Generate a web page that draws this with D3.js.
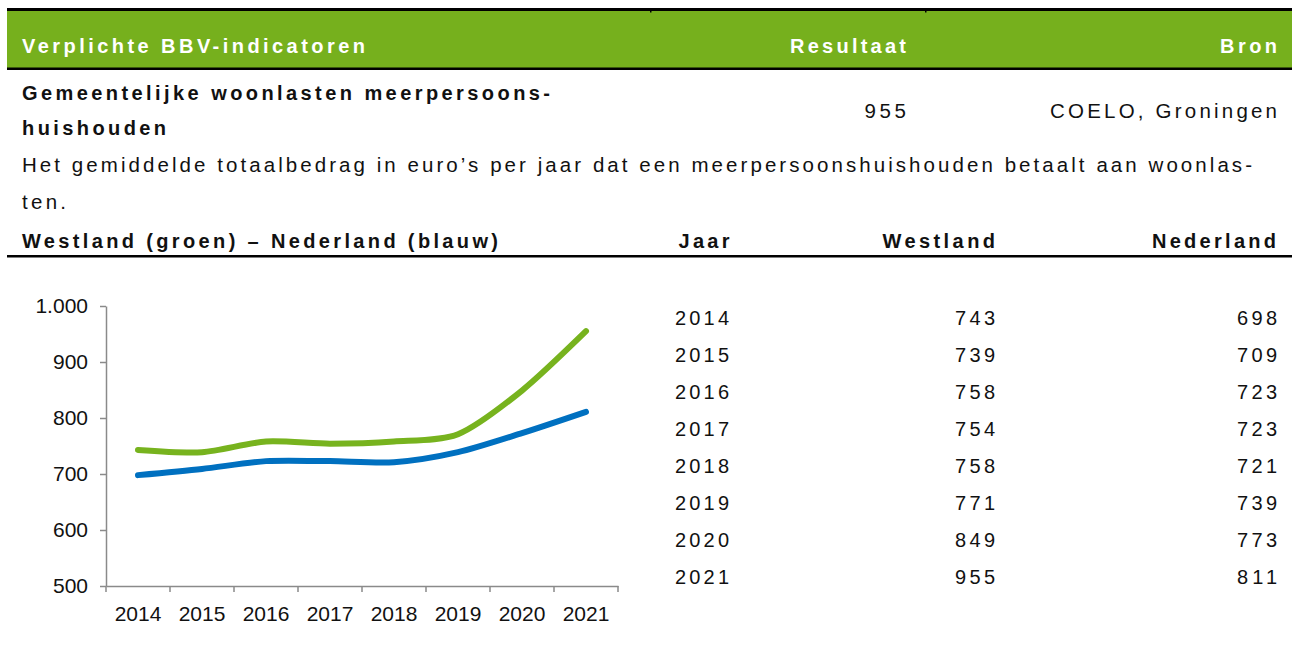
<!DOCTYPE html>
<html>
<head>
<meta charset="utf-8">
<script src="https://cdn.jsdelivr.net/npm/d3@7"></script>
<style>
  html, body { margin: 0; padding: 0; background: #fff; }
  svg { display: block; font-family: "Liberation Sans", Arial, sans-serif; }
</style>
</head>
<body>
<svg id="chart" width="1292" height="659"></svg>
<script>
// ---- data ----
const years = [2014, 2015, 2016, 2017, 2018, 2019, 2020, 2021];
const westland = [743, 739, 758, 754, 758, 771, 849, 955];
const nederland = [698, 709, 723, 723, 721, 739, 773, 811];
const yTicks = [500, 600, 700, 800, 900, 1000];

const headerLabels = ["Verplichte BBV-indicatoren", "Resultaat", "Bron"];
const indicatorTitle = ["Gemeentelijke woonlasten meerpersoons-", "huishouden"];
const resultValue = "955";
const sourceText = "COELO, Groningen";
const description = ["Het gemiddelde totaalbedrag in euro\u2019s per jaar dat een meerpersoonshuishouden betaalt aan woonlas-", "ten."];
const tableHeader = ["Westland (groen) \u2013 Nederland (blauw)", "Jaar", "Westland", "Nederland"];

const GREEN = "#76B01D";
const LINE_GREEN = "#77B31E";
const BLUE = "#0070C0";

const svg = d3.select("#chart");
const W = 1292;

// helper: text stretched between left and right edges (letter-spaced look)
function spaced(x0, x1, y, str, opts = {}) {
  const t = svg.append("text")
    .attr("x", x0).attr("y", y)
    .attr("font-size", opts.size || 20)
    .attr("font-weight", opts.weight || "normal")
    .attr("fill", opts.fill || "#111")
    .text(str);
  if (x1 != null) {
    t.attr("textLength", x1 - x0).attr("lengthAdjust", "spacing");
  }
  return t;
}

// ---- header band ----
svg.append("rect").attr("x", 7).attr("y", 10).attr("width", W - 7).attr("height", 58).attr("fill", GREEN);
svg.append("rect").attr("x", 7).attr("y", 8).attr("width", W - 7).attr("height", 3).attr("fill", "#000");
svg.append("rect").attr("x", 7).attr("y", 67.5).attr("width", W - 7).attr("height", 2.5).attr("fill", "#000");
[650, 925].forEach(x => svg.append("rect").attr("x", x).attr("y", 8).attr("width", 1.5).attr("height", 4.5).attr("fill", "#000"));

spaced(22, 365, 53, headerLabels[0], { weight: "bold", fill: "#fff" });
spaced(790, 906, 53, headerLabels[1], { weight: "bold", fill: "#fff" });
spaced(1220, 1277, 53, headerLabels[2], { weight: "bold", fill: "#fff" });

// ---- indicator block ----
spaced(22, 550, 100, indicatorTitle[0], { weight: "bold" });
spaced(22, 166, 135, indicatorTitle[1], { weight: "bold" });
spaced(864.5, 906, 118, resultValue, { size: 20.5 });
spaced(1050, 1277, 118, sourceText, { size: 20.5 });
spaced(22, 1252, 172, description[0], { size: 20.5 });
spaced(22, 66, 209, description[1], { size: 20.5 });

spaced(22, 498, 248, tableHeader[0], { weight: "bold" });
spaced(678.5, 729.5, 248, tableHeader[1], { weight: "bold" });
spaced(882.5, 995, 248, tableHeader[2], { weight: "bold" });
spaced(1152, 1276, 248, tableHeader[3], { weight: "bold" });
svg.append("rect").attr("x", 7).attr("y", 255).attr("width", W - 7).attr("height", 2.5).attr("fill", "#000");

// ---- table ----
const rowY = d3.scalePoint().domain(years).range([324.5, 583.5]);
const g = svg.append("g");
years.forEach((yr, i) => {
  const y = rowY(yr);
  spaced(675, 729, y, String(yr), {});
  spaced(955, 995, y, String(westland[i]), {});
  spaced(1237, 1277, y, String(nederland[i]), {});
});

// ---- line chart ----
const x = d3.scaleBand().domain(years).range([106, 618]).padding(0);
const y = d3.scaleLinear().domain([500, 1000]).range([586, 306]);
const AXIS = "#8a8a8a";
const nl = d3.formatLocale({ decimal: ",", thousands: ".", grouping: [3], currency: ["€", ""] });
const fmt = nl.format(",");

const yAxis = svg.append("g").attr("transform", `translate(${x.range()[0]},0)`)
  .call(d3.axisLeft(y).tickValues(yTicks).tickFormat(fmt).tickSize(6).tickSizeOuter(0).tickPadding(12));
yAxis.select(".domain").attr("stroke", AXIS).attr("stroke-width", 1.5);
yAxis.selectAll(".tick line").attr("stroke", AXIS).attr("stroke-width", 1.5);
yAxis.selectAll("text").attr("font-size", 21).attr("fill", "#111").attr("font-family", "'Liberation Sans', Arial, sans-serif");

const xAxis = svg.append("g").attr("transform", `translate(0,${y(500)})`)
  .call(d3.axisBottom(x).tickSize(0).tickPadding(20));
xAxis.select(".domain").attr("stroke", AXIS).attr("stroke-width", 1.5);
xAxis.selectAll("text").attr("font-size", 21).attr("fill", "#111").attr("font-family", "'Liberation Sans', Arial, sans-serif");
// boundary ticks between categories
const bounds = years.map(d => x(d)).concat([x(years[years.length - 1]) + x.bandwidth()]);
xAxis.selectAll(".bound").data(bounds).join("line")
  .attr("class", "bound")
  .attr("x1", d => d).attr("x2", d => d).attr("y1", 0).attr("y2", 6)
  .attr("stroke", AXIS).attr("stroke-width", 1.5);

const line = d3.line()
  .x((d, i) => x(years[i]) + x.bandwidth() / 2)
  .y(d => y(d))
  .curve(d3.curveCardinal.tension(0.2));

svg.append("path").datum(nederland).attr("d", line)
  .attr("fill", "none").attr("stroke", BLUE).attr("stroke-width", 6).attr("stroke-linecap", "round").attr("stroke-linejoin", "round");
svg.append("path").datum(westland).attr("d", line)
  .attr("fill", "none").attr("stroke", LINE_GREEN).attr("stroke-width", 6).attr("stroke-linecap", "round").attr("stroke-linejoin", "round");
</script>
</body>
</html>
